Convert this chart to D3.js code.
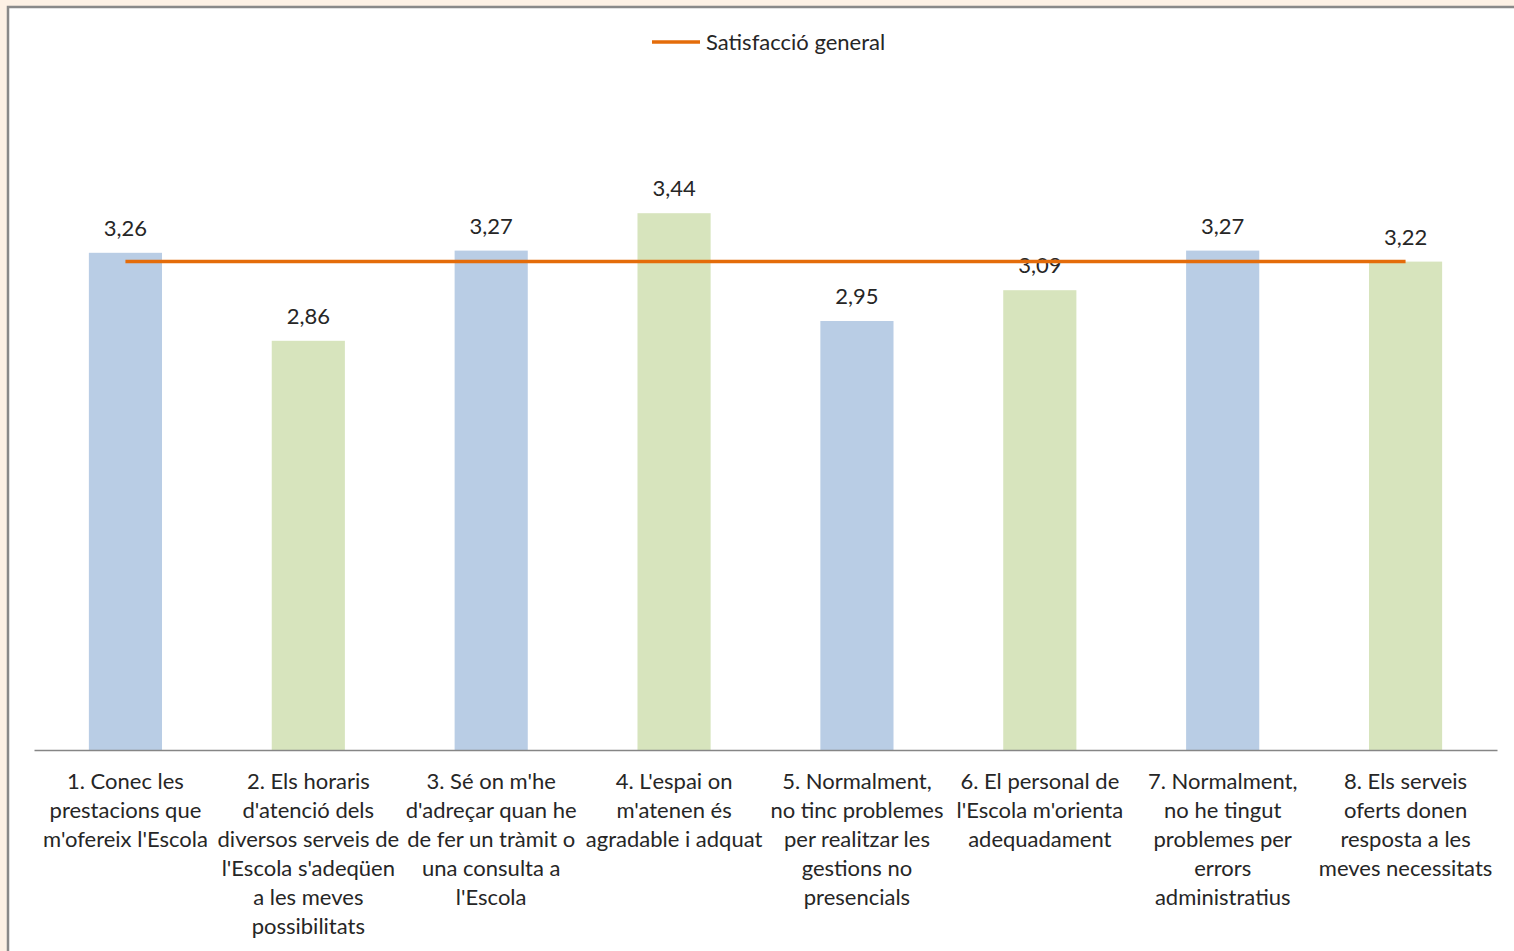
<!DOCTYPE html>
<html>
<head>
<meta charset="utf-8">
<script src="https://cdn.jsdelivr.net/npm/d3@7/dist/d3.min.js"></script>
<style>
  html, body { margin: 0; padding: 0; background: #fdf1e5; }
  svg { display: block; }
  text { font-family: Lato, "Open Sans", sans-serif; fill: #262626; }
</style>
</head>
<body>
<svg id="chart" width="1514" height="951"></svg>
<script>
// Survey items (label lines as they wrap under each bar)
const categories = [
  ["1. Conec les", "prestacions que", "m'ofereix l'Escola"],
  ["2. Els horaris", "d'atenció dels", "diversos serveis de", "l'Escola s'adeqüen", "a les meves", "possibilitats"],
  ["3. Sé on m'he", "d'adreçar quan he", "de fer un tràmit o", "una consulta a", "l'Escola"],
  ["4. L'espai on", "m'atenen és", "agradable i adquat"],
  ["5. Normalment,", "no tinc problemes", "per realitzar les", "gestions no", "presencials"],
  ["6. El personal de", "l'Escola m'orienta", "adequadament"],
  ["7. Normalment,", "no he tingut", "problemes per", "errors", "administratius"],
  ["8. Els serveis", "oferts donen", "resposta a les", "meves necessitats"]
];
const itemScores = [3.26, 2.86, 3.27, 3.44, 2.95, 3.09, 3.27, 3.22];
const generalSatisfaction = [3.22, 3.22, 3.22, 3.22, 3.22, 3.22, 3.22, 3.22];
const barColors = ["#b9cde5", "#d7e4bd"];
const legendLabel = "Satisfacció general";

const svg = d3.select("#chart");

// chart frame
svg.append("rect")
  .attr("x", 8).attr("y", 7).attr("width", 1520).attr("height", 960)
  .attr("fill", "#ffffff").attr("stroke", "#898989").attr("stroke-width", 2.5);

const plot = { left: 34, right: 1497, top: 90, bottom: 750 };

const ids = categories.map((d, i) => i);
const x = d3.scaleBand()
  .domain(ids)
  .range([plot.left, plot.right])
  .paddingInner(0.6)
  .paddingOuter(0.3);

const y = d3.scaleLinear().domain([1, 4]).range([plot.bottom, plot.top]);

const locale = d3.formatLocale({ decimal: ",", thousands: ".", grouping: [3], currency: ["", "€"] });
const fmt = locale.format(".2f");

// bars
svg.append("g").selectAll("rect")
  .data(itemScores)
  .join("rect")
  .attr("x", (d, i) => x(i))
  .attr("y", d => y(d))
  .attr("width", x.bandwidth())
  .attr("height", d => y(1) - y(d))
  .attr("fill", (d, i) => barColors[i % 2]);

// category axis
const xAxis = svg.append("g")
  .attr("transform", `translate(0,${plot.bottom})`)
  .call(d3.axisBottom(x).tickSize(0).tickFormat(""));
xAxis.select(".domain").attr("stroke", "#868686").attr("stroke-width", 1.3);

xAxis.selectAll(".tick").each(function (i) {
  const t = d3.select(this).append("text")
    .attr("text-anchor", "middle")
    .attr("font-size", 22)
    .attr("y", 39);
  categories[i].forEach((line, k) => {
    t.append("tspan").attr("x", 0).attr("y", 39 + k * 29).text(line);
  });
});

// value labels
svg.append("g").selectAll("text")
  .data(itemScores)
  .join("text")
  .attr("x", (d, i) => x(i) + x.bandwidth() / 2)
  .attr("y", d => y(d) - 17)
  .attr("text-anchor", "middle")
  .attr("font-size", 22)
  .text(d => fmt(d));

// general satisfaction line
const line = d3.line()
  .x((d, i) => x(i) + x.bandwidth() / 2)
  .y(d => y(d));
svg.append("path")
  .datum(generalSatisfaction)
  .attr("d", line)
  .attr("fill", "none")
  .attr("stroke", "#e46c0a")
  .attr("stroke-width", 3.5);

// legend
const legend = svg.append("g").attr("transform", "translate(652,42)");
legend.append("line")
  .attr("x1", 0).attr("x2", 48).attr("y1", 0).attr("y2", 0)
  .attr("stroke", "#e46c0a").attr("stroke-width", 3.5);
legend.append("text")
  .attr("x", 54).attr("y", 8)
  .attr("font-size", 22)
  .text(legendLabel);
</script>
</body>
</html>
